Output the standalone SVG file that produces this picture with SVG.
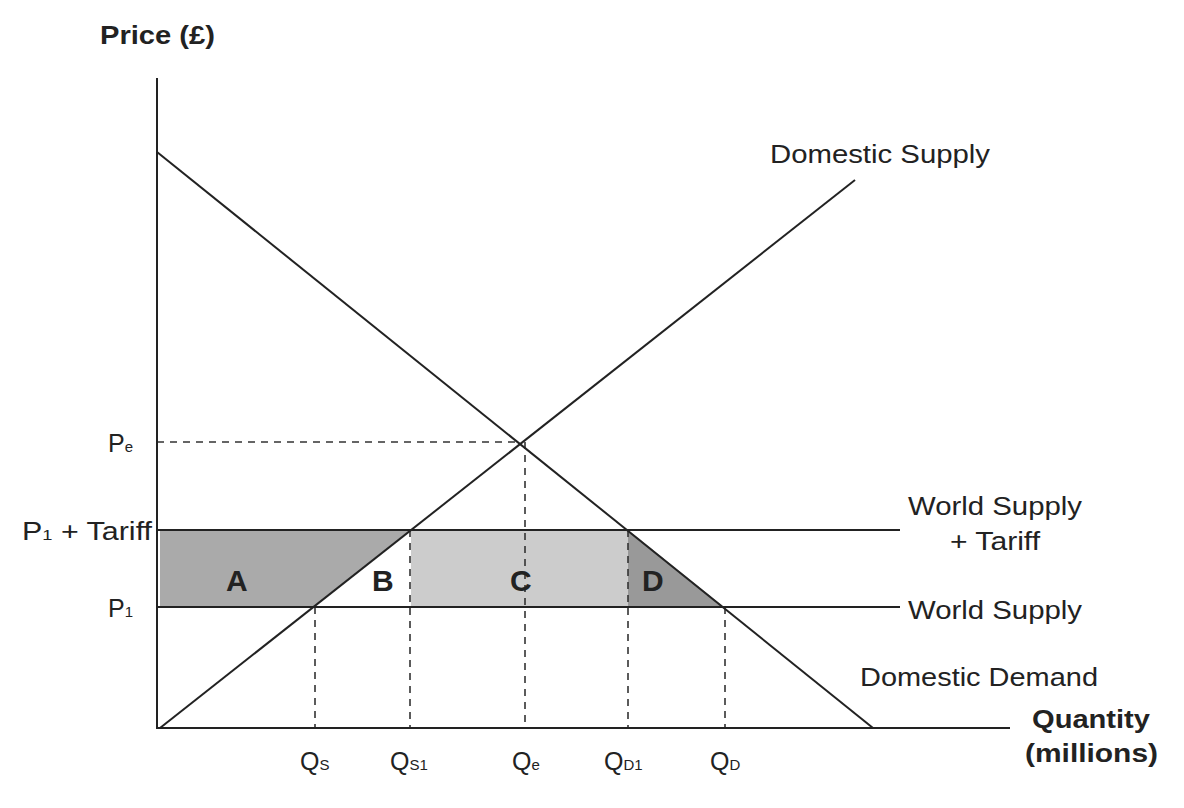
<svg xmlns="http://www.w3.org/2000/svg" width="1184" height="808" viewBox="0 0 1184 808">
<style>
text{font-family:"Liberation Sans",Arial,sans-serif;fill:#222;font-size:25px}
.b{font-weight:bold}
.big{font-weight:bold;font-size:30px}
.s{font-size:15px}
.ln{stroke:#222;stroke-width:2;fill:none}
.d{stroke:#333;stroke-width:1.6;stroke-dasharray:7,6;fill:none}
</style>
<rect width="1184" height="808" fill="#fff"/>
<g id="areas">
<polygon points="160,530 411,530 313,607 160,607" fill="#aaaaaa"/>
<polygon points="411,530 628,530 628,607 411,607" fill="#cccccc"/>
<polygon points="628,530 724,607 628,607" fill="#999999"/>
</g>
<g id="connectors">
<line class="d" x1="157" y1="442" x2="520" y2="442"/>
<line class="d" x1="315" y1="607" x2="315" y2="728"/>
<line class="d" x1="410" y1="530" x2="410" y2="728"/>
<line class="d" x1="525" y1="442" x2="525" y2="728"/>
<line class="d" x1="628" y1="530" x2="628" y2="728"/>
<line class="d" x1="725" y1="607" x2="725" y2="728"/>
<line class="ln" x1="157" y1="78" x2="157" y2="729"/>
<line class="ln" x1="156" y1="728" x2="1010" y2="728"/>
<line class="ln" x1="157" y1="152" x2="873" y2="728"/>
<line class="ln" x1="160" y1="728" x2="855" y2="180"/>
<line class="ln" x1="157" y1="530" x2="900" y2="530" stroke-width="3"/>
<line class="ln" x1="157" y1="607" x2="900" y2="607"/>
</g>
<g id="labels">
<text x="100" y="44" class="b" textLength="115" lengthAdjust="spacingAndGlyphs">Price (£)</text>
<text x="770" y="163" textLength="220" lengthAdjust="spacingAndGlyphs">Domestic Supply</text>
<text x="908" y="515" textLength="174" lengthAdjust="spacingAndGlyphs">World Supply</text>
<text x="950" y="550" textLength="90" lengthAdjust="spacingAndGlyphs">+ Tariff</text>
<text x="908" y="619" textLength="174" lengthAdjust="spacingAndGlyphs">World Supply</text>
<text x="860" y="686" textLength="238" lengthAdjust="spacingAndGlyphs">Domestic Demand</text>
<text x="1032" y="728" class="b" textLength="118" lengthAdjust="spacingAndGlyphs">Quantity</text>
<text x="1025" y="762" class="b" textLength="133" lengthAdjust="spacingAndGlyphs">(millions)</text>
<text x="108" y="452">P<tspan class="s">e</tspan></text>
<text x="22" y="540" textLength="130" lengthAdjust="spacingAndGlyphs">P<tspan class="s">1</tspan> + Tariff</text>
<text x="108" y="617">P<tspan class="s">1</tspan></text>
<text x="300" y="770">Q<tspan class="s">S</tspan></text>
<text x="390" y="770">Q<tspan class="s">S1</tspan></text>
<text x="512" y="770">Q<tspan class="s">e</tspan></text>
<text x="604" y="770">Q<tspan class="s">D1</tspan></text>
<text x="710" y="770">Q<tspan class="s">D</tspan></text>
<text x="226" y="591" class="big">A</text>
<text x="372" y="591" class="big">B</text>
<text x="510" y="591" class="big">C</text>
<text x="642" y="591" class="big">D</text>
</g>
</svg>
